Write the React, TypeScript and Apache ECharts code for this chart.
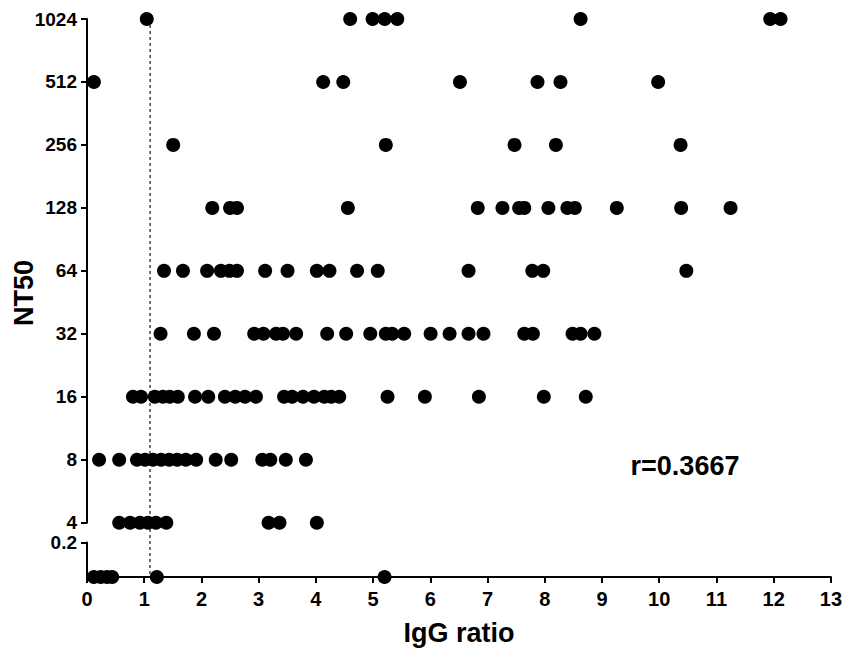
import React, { useEffect, useRef } from "react";
import * as echarts from "echarts";

// NT50 levels (log2 scale, upper panel) and IgG-ratio x values for each level
const nt50Levels = [1024, 512, 256, 128, 64, 32, 16, 8, 4];
const x1024 = [1.04, 4.58, 4.97, 5.18, 5.40, 8.59, 11.89, 12.07];
const x512 = [0.12, 4.11, 4.46, 6.49, 7.84, 8.24, 9.94];
const x256 = [1.50, 5.20, 7.44, 8.16, 10.33];
const x128 = [2.18, 2.49, 2.61, 4.54, 6.80, 7.23, 7.52, 7.61, 8.03, 8.36, 8.49, 9.22, 10.34, 11.20];
const x64 = [1.34, 1.67, 2.09, 2.33, 2.48, 2.61, 3.10, 3.49, 4.00, 4.22, 4.70, 5.06, 6.64, 7.75, 7.94, 10.43];
const x32 = [1.28, 1.86, 2.21, 2.91, 3.07, 3.29, 3.41, 3.64, 4.18, 4.51, 4.93, 5.20, 5.31, 5.52, 5.98, 6.31, 6.64, 6.90, 7.61, 7.76, 8.45, 8.59, 8.83];
const x16 = [0.80, 0.94, 1.18, 1.32, 1.44, 1.58, 1.88, 2.11, 2.40, 2.58, 2.75, 2.94, 3.43, 3.57, 3.76, 3.95, 4.13, 4.25, 4.39, 5.23, 5.88, 6.82, 7.95, 8.68];
const x8 = [0.21, 0.56, 0.87, 1.01, 1.15, 1.29, 1.43, 1.57, 1.72, 1.90, 2.24, 2.51, 3.05, 3.19, 3.46, 3.81];
const x4 = [0.56, 0.75, 0.92, 1.06, 1.20, 1.38, 3.16, 3.35, 4.00];
const xByLevel = [x1024, x512, x256, x128, x64, x32, x16, x8, x4];

// Lower panel (below detection): value 0, axis label 0.2
const xBelow = [0.12, 0.24, 0.35, 0.44, 1.22, 5.20];
const belowValue = 0;

const yTicks = [4, 8, 16, 32, 64, 128, 256, 512, 1024];
const lowerTicks = [0.2];
const xMin = 0;
const xMax = 13;
const xInterval = 1;
const refLineX = 1.1;
const corrText = "r=0.3667";

const FONT = "'Liberation Sans', Arial, Helvetica, sans-serif";

export default function App() {
  const ref = useRef<HTMLDivElement>(null);

  useEffect(() => {
    if (!ref.current) return;
    const chart = echarts.init(ref.current, null, { renderer: "svg" });

    const topData: number[][] = [];
    nt50Levels.forEach((lv, i) => {
      xByLevel[i].forEach((x) => topData.push([x, lv]));
    });
    const bottomData = xBelow.map((x) => [x, belowValue]);

    const labelStyle = {
      color: "#000",
      fontSize: 20,
      fontWeight: "bold" as const,
      fontFamily: FONT,
    };
    const yLabelStyle = { ...labelStyle, fontSize: 19, lineHeight: 19 };
    const lineStyle = { color: "#000", width: 2 };

    const option: any = {
      animation: false,
      backgroundColor: "#fff",
      grid: [
        { left: 87, right: 11, top: 19, height: 503.7 },
        { left: 87, right: 11, top: 542.5, height: 34.5 },
      ],
      xAxis: [
        {
          gridIndex: 0,
          type: "value",
          min: xMin,
          max: xMax,
          interval: xInterval,
          show: false,
        },
        {
          gridIndex: 1,
          type: "value",
          min: xMin,
          max: xMax,
          interval: xInterval,
          axisLine: { show: true, onZero: false, lineStyle },
          axisTick: { show: true, length: 6, lineStyle },
          axisLabel: { ...labelStyle, margin: 12 },
          splitLine: { show: false },
          name: "IgG ratio",
          nameLocation: "middle",
          nameGap: 42,
          nameTextStyle: {
            color: "#000",
            fontSize: 27,
            fontWeight: "bold",
            fontFamily: FONT,
          },
        },
      ],
      yAxis: [
        {
          gridIndex: 0,
          type: "log",
          logBase: 2,
          min: 4,
          max: 1024,
          axisLine: { show: true, lineStyle },
          axisTick: { show: true, length: 6, lineStyle, customValues: yTicks },
          axisLabel: {
            ...yLabelStyle,
            margin: 10,
            customValues: yTicks,
            formatter: (v: number) => String(Math.round(v)),
          },
          splitLine: { show: false },
          minorTick: { show: false },
        },
        {
          gridIndex: 1,
          type: "value",
          min: 0,
          max: 0.2,
          axisLine: { show: true, onZero: false, lineStyle },
          axisTick: { show: true, length: 6, lineStyle, customValues: lowerTicks },
          axisLabel: {
            ...yLabelStyle,
            margin: 10,
            customValues: lowerTicks,
            formatter: (v: number) => String(v),
          },
          splitLine: { show: false },
        },
      ],
      graphic: [
        {
          type: "text",
          x: 24,
          y: 293,
          rotation: Math.PI / 2,
          style: {
            text: "NT50",
            fill: "#000",
            font: `bold 27px ${FONT}`,
            textAlign: "center",
            textVerticalAlign: "middle",
            align: "center",
            verticalAlign: "middle",
          },
        },
        {
          type: "text",
          x: 685,
          y: 466,
          style: {
            text: corrText,
            fill: "#000",
            font: `bold 27px ${FONT}`,
            textAlign: "center",
            textVerticalAlign: "middle",
            align: "center",
            verticalAlign: "middle",
          },
        },
      ],
      series: [
        {
          type: "scatter",
          xAxisIndex: 0,
          yAxisIndex: 0,
          data: topData,
          symbol: "circle",
          symbolSize: 14,
          clip: false,
          itemStyle: { color: "#000", opacity: 1 },
          z: 3,
        },
        {
          type: "scatter",
          xAxisIndex: 1,
          yAxisIndex: 1,
          data: bottomData,
          symbol: "circle",
          symbolSize: 14,
          clip: false,
          itemStyle: { color: "#000", opacity: 1 },
          z: 3,
        },
      ],
    };

    chart.setOption(option);

    const pTop = chart.convertToPixel({ seriesIndex: 0 }, [refLineX, 1024]) as number[];
    const pBot = chart.convertToPixel({ seriesIndex: 1 }, [refLineX, belowValue]) as number[];
    if (pTop && pBot) {
      chart.setOption({
        graphic: [
          option.graphic[0],
          option.graphic[1],
          {
            type: "line",
            z: 1,
            shape: { x1: pTop[0], y1: pTop[1], x2: pBot[0], y2: pBot[1] },
            style: { stroke: "#444", lineWidth: 1.5, lineDash: [3, 3] },
          },
        ],
      });
    }

    return () => chart.dispose();
  }, []);

  return (
    <div
      ref={ref}
      style={{ position: "fixed", left: 0, top: 0, width: 845, height: 649 }}
    />
  );
}
